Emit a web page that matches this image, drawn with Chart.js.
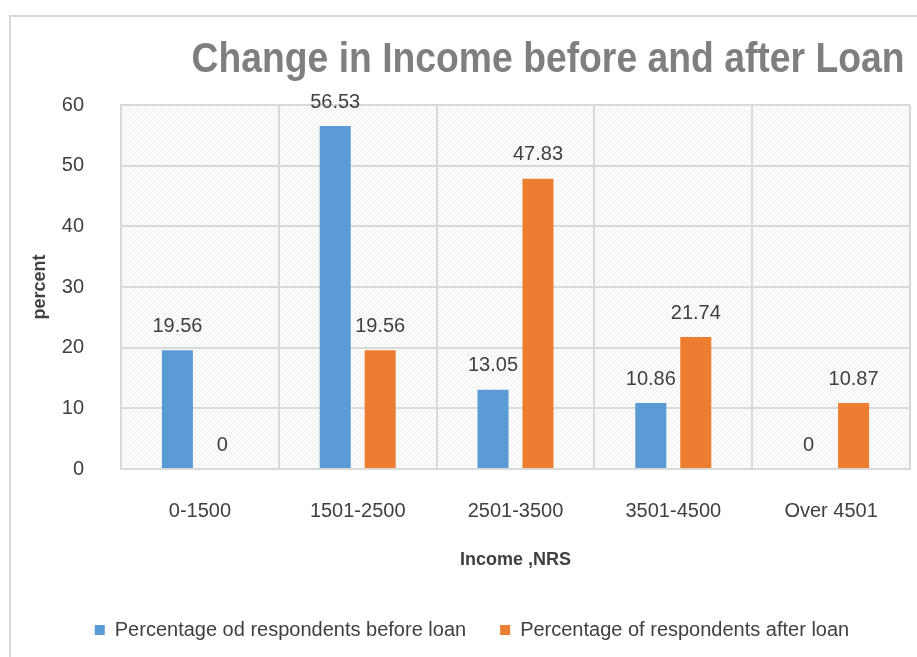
<!DOCTYPE html>
<html>
<head>
<meta charset="utf-8">
<title>Change in Income before and after Loan</title>
<script src="https://cdn.jsdelivr.net/npm/chart.js@4.4.1/dist/chart.umd.min.js"></script>
<style>
  html, body { margin: 0; padding: 0; background: #fff; }
  #wrap { position: relative; width: 917px; height: 657px; overflow: hidden; }
  #frame { position: absolute; left: 9px; top: 15px; width: 1000px; height: 1000px; border: 2px solid #d9d9d9; }
  #chart { position: absolute; left: 0; top: 0; }
</style>
</head>
<body>
<div id="wrap">
  <div id="frame"></div>
  <canvas id="chart" width="917" height="657"></canvas>
</div>
<script>
const chartTitle = 'Change in Income before and after Loan';
const categories = ['0-1500', '1501-2500', '2501-3500', '3501-4500', 'Over 4501'];
const seriesNames = ['Percentage od respondents before loan', 'Percentage of respondents after loan'];
const beforeLoan = [19.56, 56.53, 13.05, 10.86, 0];
const afterLoan = [0, 19.56, 47.83, 21.74, 10.87];
const yTicks = [0, 10, 20, 30, 40, 50, 60];

const FONT = '"Liberation Sans", Arial, sans-serif';
const TEXT = '#404040';
const GRID = '#d9d9d9';

// fine diagonal hatch behind the plot, like the office chart fill
function hatchPattern(ctx) {
  const c = document.createElement('canvas');
  c.width = 4; c.height = 4;
  const g = c.getContext('2d');
  g.fillStyle = '#fdfdfd';
  g.fillRect(0, 0, 4, 4);
  g.fillStyle = '#ededed';
  for (let i = 0; i < 4; i++) g.fillRect(i, 3 - i, 1, 1);
  return ctx.createPattern(c, 'repeat');
}

const plotFill = {
  id: 'plotFill',
  beforeDraw(chart) {
    const { ctx, chartArea: a } = chart;
    ctx.save();
    ctx.fillStyle = hatchPattern(ctx);
    ctx.fillRect(a.left, a.top, a.right - a.left, a.bottom - a.top);
    ctx.restore();
  }
};

const bigTitle = {
  id: 'bigTitle',
  afterDraw(chart) {
    const ctx = chart.ctx;
    ctx.save();
    ctx.font = 'bold 42px ' + FONT;
    ctx.fillStyle = '#7f7f7f';
    ctx.textBaseline = 'alphabetic';
    ctx.textAlign = 'center';
    const w = ctx.measureText(chartTitle).width;
    ctx.translate(548, 72);
    ctx.scale(713 / w, 1);
    ctx.fillText(chartTitle, 0, 0);
    ctx.restore();
  }
};

const valueLabels = {
  id: 'valueLabels',
  afterDatasetsDraw(chart) {
    const ctx = chart.ctx;
    ctx.save();
    ctx.font = '20px ' + FONT;
    ctx.fillStyle = TEXT;
    ctx.textAlign = 'center';
    ctx.textBaseline = 'middle';
    chart.data.datasets.forEach((ds, i) => {
      chart.getDatasetMeta(i).data.forEach((bar, j) => {
        ctx.fillText(String(ds.data[j]), bar.x, bar.y - 24);
      });
    });
    ctx.restore();
  }
};

// nudge the legend so it sits where the original one does
const legendShift = {
  id: 'legendShift',
  afterLayout(chart) {
    chart.legend.left += 12;
    chart.legend.right += 12;
  }
};

new Chart(document.getElementById('chart').getContext('2d'), {
  type: 'bar',
  data: {
    labels: categories,
    datasets: [
      { label: seriesNames[0], data: beforeLoan, backgroundColor: '#5b9bd5',
        categoryPercentage: 0.57, barPercentage: 0.69 },
      { label: seriesNames[1], data: afterLoan, backgroundColor: '#ed7d31',
        categoryPercentage: 0.57, barPercentage: 0.69 }
    ]
  },
  options: {
    responsive: false,
    animation: false,
    layout: { padding: { left: 10, right: 7, top: 105, bottom: 7 } },
    plugins: {
      title: { display: false },
      tooltip: { enabled: false },
      legend: {
        position: 'bottom',
        labels: { boxWidth: 10, boxHeight: 10, padding: 34, color: TEXT, font: { family: FONT, size: 20 } }
      }
    },
    scales: {
      x: {
        grid: { color: GRID, lineWidth: 2, drawTicks: false, offset: true },
        border: { color: GRID, width: 2 },
        ticks: { color: TEXT, padding: 30, maxRotation: 0, font: { family: FONT, size: 20 } },
        title: { display: true, text: 'Income ,NRS', color: TEXT, padding: { top: 0, bottom: 15 },
                 font: { family: FONT, size: 18, weight: 'bold' } },
        afterFit(s) { s.height = 117; }
      },
      y: {
        min: yTicks[0],
        max: yTicks[yTicks.length - 1],
        grid: { color: GRID, lineWidth: 2, drawTicks: false },
        border: { color: GRID, width: 2 },
        ticks: { stepSize: yTicks[1] - yTicks[0], color: TEXT, padding: 37, font: { family: FONT, size: 20 } },
        title: { display: true, text: 'percent', color: TEXT, padding: { top: 19, bottom: 0 },
                 font: { family: FONT, size: 18, weight: 'bold' } },
        afterFit(s) { s.width = 111; }
      }
    }
  },
  plugins: [plotFill, valueLabels, bigTitle, legendShift]
});
</script>
</body>
</html>
